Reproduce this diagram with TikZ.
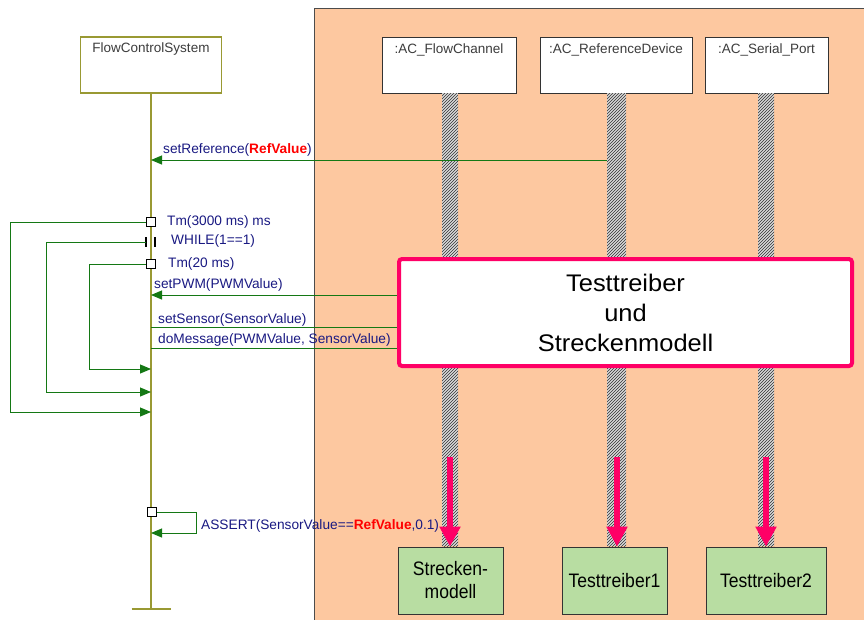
\documentclass[tikz,border=0pt]{standalone}
\usepackage{fontspec}
\setmainfont{Liberation Sans}
\newfontfamily\condfont[FakeStretch=0.9]{Liberation Sans}
\newfontfamily\widefont[FakeStretch=1.06]{Liberation Sans}
\usepackage{tikz}
\usetikzlibrary{arrows.meta,patterns}
\definecolor{peach}{RGB}{253,200,160}
\definecolor{olivel}{RGB}{153,153,51}
\definecolor{msggreen}{RGB}{20,120,20}
\definecolor{lblblue}{RGB}{25,25,130}
\definecolor{refred}{RGB}{255,0,0}
\definecolor{hotpink}{RGB}{255,0,102}
\definecolor{simgreen}{RGB}{184,221,162}
\definecolor{hdgray}{RGB}{60,60,60}

\begin{document}
\begin{tikzpicture}[x=1pt, y=-1pt,
  lifehead/.style={draw=black!80, fill=white, line width=0.8pt, minimum height=56pt, inner sep=0pt},
  hdtxt/.style={anchor=base, yshift=-16.5pt, inner sep=0pt, text=hdgray, font=\fontsize{13.5}{16}\selectfont},
  hatchbar/.style={draw=none, minimum width=16pt, minimum height=453pt, inner sep=0pt, preaction={fill=black!15}, pattern=north east lines, pattern color=black!80},
  msg/.style={draw=msggreen, line width=1pt},
  arr/.style={msg, -{Triangle[length=11pt,width=9pt]}},
  lbl/.style={text=lblblue, font=\fontsize{13.7}{16}\selectfont, inner sep=0pt, anchor=base west},
  tmbox/.style={draw=black, fill=white, line width=1.6pt, minimum size=9pt, inner sep=0pt},
  testbox/.style={draw=hotpink, line width=4pt, rounded corners=3pt, fill=white, align=center, font=\widefont\fontsize{24}{30}\selectfont},
  simbox/.style={draw=black!80, line width=0.8pt, fill=simgreen, align=center, minimum height=67pt, font=\condfont\fontsize{19.5}{23}\selectfont},
  pinkarr/.style={draw=hotpink, line width=5.5pt, -{Triangle[length=20pt,width=20pt]}}]
\useasboundingbox (0,0) rectangle (864,619);
% test environment
\fill[peach] (314,8) rectangle (870,625);
\draw[black!70, line width=0.8pt] (314,625) -- (314,8) -- (870,8);

% lifelines
\node[lifehead, draw=olivel, line width=1.2pt, minimum width=141pt, label={[hdtxt]north:FlowControlSystem}] (fcs) at (151,65) {};
\node[lifehead, minimum width=134pt, label={[hdtxt]north:{:AC\_FlowChannel}}] (flowch) at (449,65) {};
\node[lifehead, minimum width=152pt, label={[hdtxt]north:{:AC\_ReferenceDevice}}] (refdev) at (616,65) {};
\node[lifehead, minimum width=123pt, label={[hdtxt]north:{:AC\_Serial\_Port}}] (serport) at (766.5,65) {};
\node[hatchbar] (flowch-bar) at (450,319.5) {};
\node[hatchbar, minimum width=19pt] (refdev-bar) at (616.5,319.5) {};
\node[hatchbar] (serport-bar) at (766,319.5) {};
\coordinate (fcs-end) at (151,609);
\draw[olivel, line width=2pt] (fcs) -- (fcs-end);
\draw[olivel, line width=2pt] ([xshift=-19.5pt]fcs-end) -- ([xshift=19.5pt]fcs-end);

% simulation parts
\node[simbox, minimum width=105pt] (sm) at (450.5,580.5) {Strecken-\\modell};
\node[simbox, minimum width=105pt] (tt1) at (614.5,580.5) {Testtreiber1};
\node[simbox, minimum width=120pt] (tt2) at (766,580.5) {Testtreiber2};
\coordinate (sm-a) at (450,457);
\coordinate (tt1-a) at (617,457);
\coordinate (tt2-a) at (766,457);
\draw[pinkarr] (sm-a) -- (sm-a |- sm.north);
\draw[pinkarr] (tt1-a) -- (tt1-a |- tt1.north);
\draw[pinkarr] (tt2-a) -- (tt2-a |- tt2.north);

% messages
\coordinate (ref-in) at (151,160);
\draw[arr] (refdev-bar.west |- ref-in) -- (ref-in);
\node[lbl] (ref-lbl) at (163,153.5) {setReference(\textcolor{refred}{\textbf{RefValue}})};

\node[tmbox] (tm1) at (151,222) {};
\node[lbl] (tm1-lbl) at (167,225.5) {Tm(3000 ms) ms};
\coordinate (tm1-c) at (10,222);
\coordinate (tm1-in) at (151,412);
\draw[arr] (tm1) -- (tm1-c) |- (tm1-in);

\node[minimum size=9pt, inner sep=0pt] (wh) at (150.5,242) {};
\draw[black, line width=1.6pt] (wh.north west) -- (wh.south west) (wh.north east) -- (wh.south east);
\node[lbl] (wh-lbl) at (171,244.5) {WHILE(1==1)};
\coordinate (wh-c) at (46,242);
\coordinate (wh-in) at (151,392);
\draw[arr] (wh.west) -- (wh-c) |- (wh-in);

\node[tmbox] (tm2) at (151,264) {};
\node[lbl] (tm2-lbl) at (168,267) {Tm(20 ms)};
\coordinate (tm2-c) at (89,264);
\coordinate (tm2-in) at (151,369);
\draw[arr] (tm2) -- (tm2-c) |- (tm2-in);

\coordinate (tdrv-w) at (399,312);
\coordinate (pwm-in) at (151,295);
\draw[arr] (tdrv-w |- pwm-in) -- (pwm-in);
\node[lbl] (pwm-lbl) at (154,288.5) {setPWM(PWMValue)};
\coordinate (sens-out) at (151,327);
\draw[msg] (sens-out) -- (tdrv-w |- sens-out);
\node[lbl] (sens-lbl) at (158,323) {setSensor(SensorValue)};
\coordinate (do-out) at (151,348);
\draw[msg] (do-out) -- (tdrv-w |- do-out);
\node[lbl] (do-lbl) at (158,343.5) {doMessage(PWMValue, SensorValue)};

\node[tmbox] (as) at (152,512) {};
\coordinate (as-c) at (196,512);
\coordinate (as-in) at (151,533);
\draw[arr] (as) -- (as-c) |- (as-in);
\node[lbl] (as-lbl) at (201,529) {ASSERT(SensorValue==\textcolor{refred}{\textbf{RefValue}},0.1)};

% test driver
\node[testbox, minimum width=453pt, minimum height=107pt] (tdrv) at (625.5,312.5) {Testtreiber\\und\\Streckenmodell};
\end{tikzpicture}
\end{document}
